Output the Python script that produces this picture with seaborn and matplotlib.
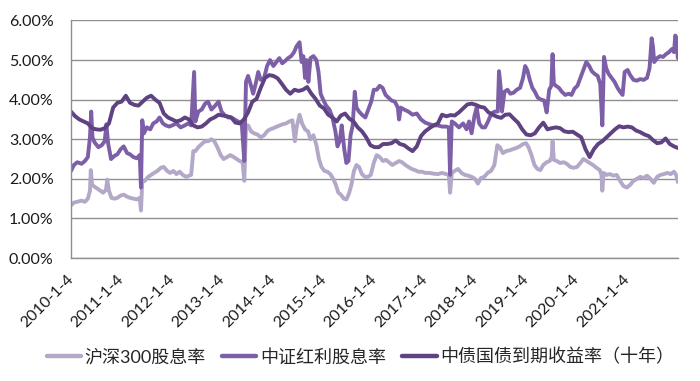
import numpy as np
import pandas as pd
import seaborn as sns
import matplotlib.pyplot as plt
import matplotlib.ticker as mticker

START = pd.Timestamp("2010-01-04")

# time = months after 2010-01-04, values in %
HS300_T = [0, 0.7, 1.5, 2.5, 3.3, 4, 4.5, 4.7, 5, 5.6, 6.3, 7, 7.6, 8.3, 8.6, 9, 9.6, 10.3, 11, 11.8,
           12.5, 13.3, 14, 14.8, 15.6, 16.3, 16.6, 16.9, 17.5, 18.3, 19, 19.7, 20.5, 21.3, 22, 22.8,
           23.5, 24.3, 25, 25.8, 26.5, 27.3, 28, 28.5, 29, 29.5, 30.2, 31, 31.8, 32.5, 33.3, 34, 34.8,
           35.5, 36.2, 37, 37.8, 38.6, 39.3, 40, 40.7, 41.1, 41.5, 42, 42.7, 43.4, 44.2, 45, 45.8, 46.5,
           47.2, 48, 48.8, 49.5, 50.2, 51, 51.8, 52.5, 53.1, 53.5, 54.2, 54.8, 55.5, 56.2, 56.8, 57.5,
           58.2, 58.8, 59.4, 60.1, 60.8, 61.5, 62.2, 62.8, 63.4, 64, 64.7, 65.3, 65.9, 66.5, 67.1, 67.7,
           68.3, 69, 69.7, 70.4, 71.1, 71.8, 72.5, 73.2, 74, 74.7, 75.4, 76.2, 77, 77.8, 78.5, 79.3, 80,
           80.8, 81.6, 82.4, 83.2, 84, 85, 86, 87, 88, 89, 89.6, 89.9, 90.3, 91, 91.8, 92.6, 93.4, 94.2,
           95, 95.8, 96.5, 97.2, 98, 98.8, 99.6, 100.4, 101.1, 101.7, 102.4, 103.2, 104, 104.8, 105.6,
           106.4, 107.2, 107.9, 108.5, 109.2, 109.9, 110.6, 111.3, 112, 112.8, 113.5, 114, 114.2, 114.5,
           115.2, 116, 116.8, 117.6, 118.4, 119.2, 120, 120.8, 121.5, 122.3, 123, 123.8, 124.6, 125.4,
           125.8, 126.0, 126.3, 127, 127.8, 128.6, 129.4, 130.2, 131, 131.8, 132.6, 133.4, 134.2, 135,
           135.8, 136.6, 137.4, 138.2, 139, 139.8, 140.6, 141.4, 142.2, 143, 143.5, 143.9]
HS300_V = [1.33, 1.40, 1.42, 1.45, 1.42, 1.50, 1.70, 2.22, 1.85, 1.80, 1.75, 1.70, 1.65, 1.72, 1.98, 1.70,
           1.52, 1.50, 1.52, 1.58, 1.60, 1.55, 1.52, 1.50, 1.48, 1.52, 1.20, 1.92, 1.95, 2.05, 2.10, 2.15,
           2.20, 2.28, 2.30, 2.20, 2.15, 2.20, 2.12, 2.18, 2.10, 2.05, 2.08, 2.10, 2.70, 2.70, 2.80, 2.88,
           2.95, 2.95, 3.00, 2.95, 2.78, 2.60, 2.50, 2.55, 2.60, 2.55, 2.50, 2.45, 2.42, 1.95, 3.30, 3.35,
           3.20, 3.15, 3.12, 3.05, 3.10, 3.20, 3.25, 3.28, 3.32, 3.35, 3.38, 3.40, 3.45, 3.48, 2.95, 3.30,
           3.62, 3.40, 3.25, 3.20, 3.00, 3.10, 2.85, 2.50, 2.30, 2.20, 2.18, 2.12, 2.00, 1.85, 1.65, 1.60,
           1.50, 1.48, 1.62, 1.85, 2.20, 2.35, 2.30, 2.12, 2.05, 2.05, 2.10, 2.40, 2.60, 2.55, 2.45, 2.48,
           2.42, 2.35, 2.40, 2.45, 2.42, 2.35, 2.30, 2.25, 2.22, 2.18, 2.18, 2.15, 2.15, 2.13, 2.12, 2.15,
           2.12, 2.10, 1.65, 2.15, 2.20, 2.25, 2.15, 2.10, 2.08, 2.05, 2.00, 1.88, 2.02, 2.05, 2.15, 2.20,
           2.35, 2.85, 2.80, 2.65, 2.70, 2.72, 2.75, 2.78, 2.82, 2.88, 2.90, 2.80, 2.60, 2.35, 2.25, 2.22,
           2.35, 2.42, 2.45, 2.55, 2.95, 2.48, 2.45, 2.40, 2.42, 2.38, 2.30, 2.28, 2.30, 2.40, 2.50, 2.45,
           2.40, 2.35, 2.28, 2.22, 2.10, 1.70, 2.15, 2.10, 2.12, 2.08, 2.10, 1.95, 1.82, 1.78, 1.85, 1.95,
           2.00, 2.05, 2.02, 2.08, 2.00, 1.90, 2.05, 2.10, 2.12, 2.15, 2.12, 2.18, 2.10, 1.92]

DIV_T = [0, 0.7, 1.5, 2.5, 3.3, 4, 4.5, 4.8, 5.1, 5.6, 6.5, 7.3, 8, 8.4, 8.8, 9.5, 10.3, 11, 11.8, 12.5,
         13.3, 14, 14.8, 15.6, 16.3, 16.6, 16.9, 17.3, 18, 18.8, 19.5, 20.3, 21, 21.8, 22.5, 23.3, 24, 25,
         26, 27, 27.8, 28.5, 29.2, 29.5, 30.2, 31, 31.8, 32.5, 33.3, 34.2, 35, 35.7, 36.5, 37.3, 38, 38.8,
         39.6, 40.5, 41.1, 41.5, 42, 42.7, 43.2, 43.8, 44.4, 45, 45.8, 46.5, 47.2, 48, 48.7, 49.4, 50.1,
         50.8, 51.5, 52.2, 52.9, 53.5, 54.2, 54.7, 55.1, 55.5, 55.9, 56.3, 56.8, 57.5, 58.2, 58.7, 59.2,
         59.8, 60.5, 61.3, 62, 62.7, 63.2, 63.7, 64.2, 64.8, 65.3, 65.8, 66.3, 66.8, 67.3, 67.7, 68.3, 69,
         69.8, 70.5, 71.2, 71.8, 72.5, 73.2, 73.9, 74.6, 75.3, 76, 76.8, 77.5, 77.8, 78.2, 79, 80, 81, 82,
         83, 84, 85, 86, 87, 88, 89, 89.6, 89.9, 90.3, 91, 92, 93, 93.8, 94.4, 95, 95.7, 96.2, 96.8, 97.5,
         98.2, 98.9, 99.7, 100.5, 101.2, 101.5, 101.9, 102.2, 102.8, 103.5, 104.2, 105, 105.7, 106.5,
         107.2, 107.7, 108.2, 108.8, 109.4, 110, 110.7, 111.5, 112.2, 112.8, 113.4, 113.9, 114.2, 114.5,
         115, 115.7, 116.4, 117.2, 118, 118.7, 119.4, 120.1, 120.8, 121.5, 122.2, 122.9, 123.5, 124.2,
         124.9, 125.5, 126.0, 126.4, 126.9, 127.5, 128.2, 128.9, 129.6, 130.2, 130.8, 131.3, 132, 132.6,
         133.4, 134.2, 135, 135.8, 136.6, 137.2, 137.7, 138.0, 138.3, 139, 139.7, 140.4, 141.1, 141.8,
         142.5, 143.0, 143.3, 143.6, 143.9]
DIV_V = [2.20, 2.35, 2.42, 2.38, 2.45, 2.55, 3.05, 3.70, 3.05, 2.92, 2.80, 2.85, 2.95, 3.38, 2.90, 2.50,
         2.58, 2.62, 2.75, 2.82, 2.65, 2.62, 2.55, 2.52, 2.60, 1.78, 3.48, 3.15, 3.30, 3.25, 3.40, 3.45,
         3.55, 3.40, 3.35, 3.32, 3.35, 3.40, 3.30, 3.35, 3.40, 3.35, 4.70, 3.45, 3.70, 3.75, 3.90, 3.95,
         3.75, 3.85, 3.95, 3.70, 3.60, 3.55, 3.55, 3.50, 3.45, 3.40, 2.45, 4.45, 4.60, 4.35, 4.15, 4.40,
         4.70, 4.50, 4.55, 4.85, 5.00, 4.85, 4.95, 5.05, 4.92, 4.98, 5.05, 5.10, 5.20, 5.35, 5.45, 4.95,
         5.10, 4.55, 5.00, 4.45, 5.05, 5.10, 5.00, 4.70, 4.15, 4.00, 3.85, 3.75, 3.55, 3.20, 2.82, 2.95,
         3.35, 2.75, 2.40, 2.45, 3.10, 3.35, 4.20, 3.80, 3.70, 3.62, 3.55, 3.75, 3.95, 4.25, 4.25, 4.35,
         4.30, 4.12, 4.05, 3.98, 3.95, 3.80, 3.50, 3.80, 3.75, 3.70, 3.62, 3.65, 3.50, 3.42, 3.38, 3.35,
         3.35, 3.32, 3.32, 3.30, 2.10, 3.45, 3.40, 3.30, 3.40, 3.25, 3.45, 3.15, 3.60, 3.80, 3.40, 3.30,
         3.30, 3.45, 3.65, 3.70, 3.70, 4.72, 4.30, 3.70, 4.20, 4.25, 4.15, 4.18, 4.25, 4.30, 4.55, 4.85,
         4.75, 4.50, 4.30, 4.20, 4.05, 4.00, 3.98, 3.68, 4.25, 4.35, 5.15, 4.40, 4.35, 4.30, 4.20, 4.12,
         4.15, 4.12, 4.28, 4.35, 4.55, 4.75, 4.95, 4.85, 4.72, 4.65, 4.60, 4.40, 3.35, 5.08, 4.80, 4.65,
         4.55, 4.45, 4.30, 4.20, 4.12, 4.70, 4.75, 4.62, 4.50, 4.48, 4.52, 4.50, 4.55, 4.80, 5.55, 5.35,
         4.95, 5.05, 5.10, 5.08, 5.15, 5.20, 5.28, 5.20, 5.62, 5.55, 5.05]

BOND_T = list(range(0, 144)) + [143.9]
BOND_V = [3.70, 3.58, 3.50, 3.45, 3.40, 3.28, 3.25, 3.24, 3.28, 3.40, 3.80, 3.92, 3.95, 4.10, 3.92, 3.87,
          3.85, 3.95, 4.05, 4.10, 4.00, 3.92, 3.65, 3.55, 3.50, 3.45, 3.48, 3.55, 3.50, 3.35, 3.30, 3.32,
          3.40, 3.50, 3.55, 3.62, 3.60, 3.58, 3.55, 3.42, 3.40, 3.50, 3.68, 3.95, 4.02, 4.30, 4.55, 4.62,
          4.60, 4.54, 4.40, 4.25, 4.15, 4.25, 4.22, 4.25, 4.32, 4.15, 4.02, 3.85, 3.78, 3.62, 3.55, 3.45,
          3.60, 3.65, 3.52, 3.45, 3.30, 3.20, 3.05, 2.85, 2.80, 2.80, 2.88, 2.88, 2.90, 2.97, 2.88, 2.85,
          2.77, 2.70, 2.82, 3.08, 3.20, 3.28, 3.35, 3.40, 3.62, 3.58, 3.61, 3.60, 3.68, 3.78, 3.88, 3.90,
          3.87, 3.82, 3.80, 3.68, 3.62, 3.57, 3.54, 3.62, 3.63, 3.52, 3.42, 3.25, 3.12, 3.10, 3.15, 3.30,
          3.42, 3.25, 3.28, 3.30, 3.28, 3.20, 3.18, 3.19, 3.12, 3.05, 2.75, 2.55, 2.75, 2.88, 2.95, 3.05,
          3.15, 3.25, 3.33, 3.30, 3.32, 3.30, 3.22, 3.18, 3.12, 3.08, 2.98, 2.90, 2.92, 3.02, 2.88, 2.82,
          2.78]

NAMES = ["沪深300股息率", "中证红利股息率", "中债国债到期收益率（十年）"]
COLORS = ["#b4a8c8", "#7d5fa8", "#5e4282"]
TICK_YEARS = list(range(2010, 2022))


def to_dates(months):
    return START + pd.to_timedelta(np.asarray(months, dtype=float) * 30.4375, unit="D")


def build_frame():
    parts = []
    for name, t, v in zip(NAMES, [HS300_T, DIV_T, BOND_T], [HS300_V, DIV_V, BOND_V]):
        parts.append(pd.DataFrame({"date": to_dates(t), "value": np.array(v) / 100, "series": name}))
    return pd.concat(parts, ignore_index=True)


def main():
    df = build_frame()
    sns.set_style("white")
    plt.rcParams["font.family"] = ["Lato", "Noto Sans CJK SC"]

    fig = plt.figure(figsize=(7, 3.81), dpi=100)
    ax = fig.add_axes([0.1014, 0.3228, 0.8672, 0.6234])

    sns.lineplot(data=df, x="date", y="value", hue="series", hue_order=NAMES,
                 palette=dict(zip(NAMES, COLORS)), linewidth=2.8, ax=ax, legend=False)

    ax.set_ylim(0, 0.06)
    ax.set_xlim(START, to_dates([143.95])[0])
    ax.yaxis.set_major_locator(mticker.MultipleLocator(0.01))
    ax.yaxis.set_major_formatter(mticker.PercentFormatter(1.0, decimals=2))
    ax.set_xticks([pd.Timestamp(f"{y}-01-04") for y in TICK_YEARS])
    ax.set_xticklabels([f"{y}-1-4" for y in TICK_YEARS], rotation=45, ha="right",
                       va="center", rotation_mode="anchor")
    ax.set_xlabel("")
    ax.set_ylabel("")

    ax.yaxis.grid(True, color="#8f8f8f", linewidth=1.0)
    ax.set_axisbelow(True)
    for side in ["top", "right"]:
        ax.spines[side].set_visible(False)
    for side in ["left", "bottom"]:
        ax.spines[side].set_color("#8f8f8f")
        ax.spines[side].set_linewidth(1.0)
    ax.tick_params(axis="x", length=4.5, color="#8f8f8f", labelsize=11.5, pad=9, labelcolor="#1a1a1a")
    ax.tick_params(axis="y", length=4.5, color="#8f8f8f", labelsize=11.5, pad=8, labelcolor="#1a1a1a")

    handles = [plt.Line2D([], [], color=c, linewidth=3.2) for c in COLORS]
    fig.legend(handles, NAMES, loc="center", bbox_to_anchor=(0.515, 0.063), ncol=3, frameon=False,
               fontsize=13, handlelength=1.9, handletextpad=0.2, columnspacing=0.9)

    fig.savefig("out.png", dpi=100)


if __name__ == "__main__":
    main()
